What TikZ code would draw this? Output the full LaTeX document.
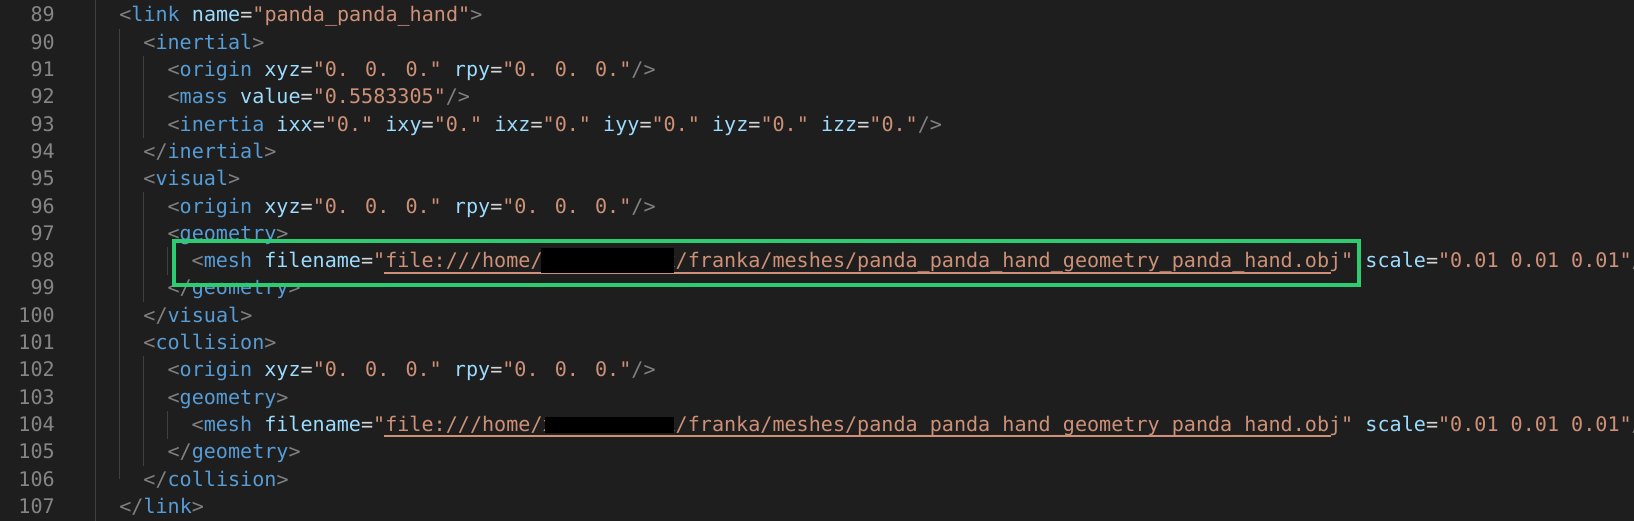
\documentclass[tikz,border=0pt]{standalone}
\usepackage{fontspec}
\newfontfamily\codefont{DejaVu Sans Mono}[WordSpace={1,0,0}]
\definecolor{bg}{HTML}{1E1E1E}
\definecolor{pc}{HTML}{808080}
\definecolor{tn}{HTML}{569CD6}
\definecolor{an}{HTML}{9CDCFE}
\definecolor{st}{HTML}{CE9178}
\definecolor{eqc}{HTML}{D4D4D4}
\definecolor{ln}{HTML}{858585}
\definecolor{gd}{HTML}{404040}
\definecolor{hl}{HTML}{2ECC71}
\newcommand\Pu[1]{\textcolor{pc}{#1}}
\newcommand\Tn[1]{\textcolor{tn}{#1}}
\newcommand\An[1]{\textcolor{an}{#1}}
\newcommand\Sv[1]{\textcolor{st}{#1}}
\newcommand\Eq{\textcolor{eqc}{=}}
\newcommand\Ex{\Sv{"0. 0. 0."}}
\begin{document}
\begin{tikzpicture}[x=1pt,y=-1pt,
  code/.style={anchor=base west,inner sep=0pt,font=\codefont\fontsize{20.1}{24}\selectfont},
  lnum/.style={anchor=base east,inner sep=0pt,text=ln,font=\codefont\fontsize{20.1}{24}\selectfont},
  guide/.style={draw=gd,line width=1pt}]
\fill[bg] (0,0) rectangle (1634,521);
\useasboundingbox (0,0) rectangle (1634,521);
% guides
\draw[guide] (95,0) -- (95,521);
\draw[guide] (119,29) -- (119,479);
\draw[guide] (143,56) -- (143,138);
\draw[guide] (143,192) -- (143,302);
\draw[guide] (143,356) -- (143,466);
\draw[guide] (167,247) -- (167,275);
\draw[guide] (167,411) -- (167,439);
% line numbers
\foreach \n [count=\i from 0] in {89,...,107}
  \node[lnum] (n\n) at (55,{22+\i*27.3}) {\n};
\newcommand\Ln[3]{\node[code] (#1) at ({95+#2*12.06},{22+(#1-89)*27.3}) {#3};}
\Ln{89}{2}{\Pu{<}\Tn{link} \An{name}\Eq\Sv{"panda\_panda\_hand"}\Pu{>}}
\Ln{90}{4}{\Pu{<}\Tn{inertial}\Pu{>}}
\Ln{91}{6}{\Pu{<}\Tn{origin} \An{xyz}\Eq\Ex{} \An{rpy}\Eq\Ex\Pu{/>}}
\Ln{92}{6}{\Pu{<}\Tn{mass} \An{value}\Eq\Sv{"0.5583305"}\Pu{/>}}
\Ln{93}{6}{\Pu{<}\Tn{inertia} \An{ixx}\Eq\Sv{"0."} \An{ixy}\Eq\Sv{"0."} \An{ixz}\Eq\Sv{"0."} \An{iyy}\Eq\Sv{"0."} \An{iyz}\Eq\Sv{"0."} \An{izz}\Eq\Sv{"0."}\Pu{/>}}
\Ln{94}{4}{\Pu{</}\Tn{inertial}\Pu{>}}
\Ln{95}{4}{\Pu{<}\Tn{visual}\Pu{>}}
\Ln{96}{6}{\Pu{<}\Tn{origin} \An{xyz}\Eq\Ex{} \An{rpy}\Eq\Ex\Pu{/>}}
\Ln{97}{6}{\Pu{<}\Tn{geometry}\Pu{>}}
\Ln{98}{8}{\Pu{<}\Tn{mesh} \An{filename}\Eq\Sv{"file:///home/xxxxxxxxxxx/franka/meshes/panda\_panda\_hand\_geometry\_panda\_hand.obj"} \An{scale}\Eq\Sv{"0.01 0.01 0.01"}\Pu{/>}}
\Ln{99}{6}{\Pu{</}\Tn{geometry}\Pu{>}}
\Ln{100}{4}{\Pu{</}\Tn{visual}\Pu{>}}
\Ln{101}{4}{\Pu{<}\Tn{collision}\Pu{>}}
\Ln{102}{6}{\Pu{<}\Tn{origin} \An{xyz}\Eq\Ex{} \An{rpy}\Eq\Ex\Pu{/>}}
\Ln{103}{6}{\Pu{<}\Tn{geometry}\Pu{>}}
\Ln{104}{8}{\Pu{<}\Tn{mesh} \An{filename}\Eq\Sv{"file:///home/xxxxxxxxxxx/franka/meshes/panda\_panda\_hand\_geometry\_panda\_hand.obj"} \An{scale}\Eq\Sv{"0.01 0.01 0.01"}\Pu{/>}}
\Ln{105}{6}{\Pu{</}\Tn{geometry}\Pu{>}}
\Ln{106}{4}{\Pu{</}\Tn{collision}\Pu{>}}
\Ln{107}{2}{\Pu{</}\Tn{link}\Pu{>}}
% underlines
\draw[st,line width=1.5pt] (384,273) -- (1331,273);
\draw[st,line width=1.5pt] (384,436) -- (1331,436);
% redactions
\fill[black] (541,248) rectangle (674,273);
\fill[black] (545,417) rectangle (674,433);
% highlight box
\draw[hl,line width=4.5pt] (174,241) rectangle (1359,285);
\end{tikzpicture}
\end{document}
